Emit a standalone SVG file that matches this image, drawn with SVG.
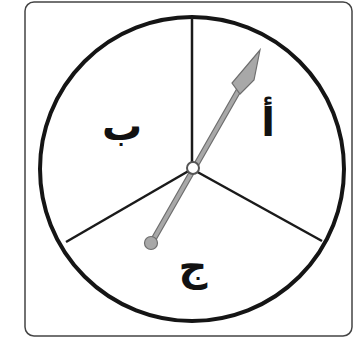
<svg xmlns="http://www.w3.org/2000/svg" width="355" height="342" viewBox="0 0 355 342">
<style>
.div{stroke:#1a1a1a;stroke-width:2.5;fill:none}
.lbl{font-family:"DejaVu Sans",sans-serif;font-weight:bold;font-size:40px;fill:#111;text-anchor:middle}
.ptr{fill:#a8a8a8;stroke:#6e6e6e;stroke-width:1.2}
</style>
<rect width="355" height="342" fill="#fff"/>
<g id="frame"><rect x="25" y="2" width="327" height="334" rx="9" fill="#fff" stroke="#444" stroke-width="1.5"/></g>
<g id="spinner">
<circle cx="192" cy="169" r="152" fill="#fff" stroke="#151515" stroke-width="4"/>
</g>
<g id="connectors">
<line class="div" x1="192" y1="17" x2="192" y2="169"/>
<line class="div" x1="192" y1="169" x2="66" y2="242"/>
<line class="div" x1="192" y1="169" x2="322" y2="241"/>
</g>
<g id="sector-a"><text class="lbl" x="268" y="136">أ</text></g>
<g id="sector-b"><text class="lbl" x="122" y="140">ب</text></g>
<g id="sector-c"><text class="lbl" x="193" y="280">ج</text></g>
<g id="pointer">
<line x1="152" y1="242" x2="240" y2="88" stroke="#6e6e6e" stroke-width="6" stroke-linecap="round"/>
<line x1="152" y1="242" x2="240" y2="88" stroke="#a8a8a8" stroke-width="3.6" stroke-linecap="round"/>
<path class="ptr" d="M260,50 L254,80 L240,94 L232,83 Z"/>
<circle class="ptr" cx="151" cy="243" r="6.5"/>
<circle cx="193" cy="168" r="6" fill="#fff" stroke="#555" stroke-width="2"/>
</g>
</svg>
